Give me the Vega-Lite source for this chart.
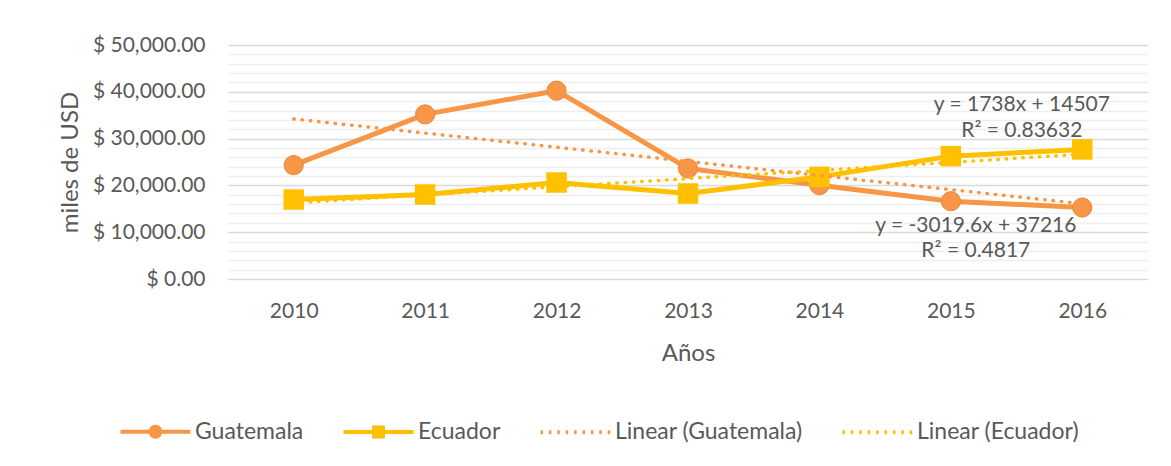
{
  "$schema": "https://vega.github.io/schema/vega-lite/v6.json",
  "width": 920,
  "height": 234,
  "autosize": {"type": "none"},
  "padding": {"left": 228, "top": 45, "right": 23, "bottom": 187},
  "background": "white",
  "config": {
    "view": {"stroke": null},
    "font": "Lato",
    "axis": {"labelColor": "#595959", "titleColor": "#595959", "titleFontWeight": "normal", "domain": false, "ticks": false}
  },
  "data": {
    "values": [
      {"year": 2010, "value": 24330, "series": "Guatemala"},
      {"year": 2011, "value": 35180, "series": "Guatemala"},
      {"year": 2012, "value": 40240, "series": "Guatemala"},
      {"year": 2013, "value": 23620, "series": "Guatemala"},
      {"year": 2014, "value": 20040, "series": "Guatemala"},
      {"year": 2015, "value": 16620, "series": "Guatemala"},
      {"year": 2016, "value": 15270, "series": "Guatemala"},
      {"year": 2010, "value": 16980, "series": "Ecuador"},
      {"year": 2011, "value": 18050, "series": "Ecuador"},
      {"year": 2012, "value": 20620, "series": "Ecuador"},
      {"year": 2013, "value": 18270, "series": "Ecuador"},
      {"year": 2014, "value": 21820, "series": "Ecuador"},
      {"year": 2015, "value": 26250, "series": "Ecuador"},
      {"year": 2016, "value": 27690, "series": "Ecuador"},
      {"year": 2010, "value": 34196, "series": "Linear (Guatemala)"},
      {"year": 2016, "value": 16079, "series": "Linear (Guatemala)"},
      {"year": 2010, "value": 16245, "series": "Linear (Ecuador)"},
      {"year": 2016, "value": 26673, "series": "Linear (Ecuador)"}
    ]
  },
  "encoding": {
    "x": {
      "field": "year", "type": "quantitative", "title": "Años",
      "scale": {"domain": [2009.5, 2016.5], "nice": false, "zero": false},
      "axis": {"values": [2010, 2011, 2012, 2013, 2014, 2015, 2016], "format": "d", "grid": false, "labelFontSize": 21, "labelPadding": 21, "titleFontSize": 24, "titlePadding": 20}
    },
    "y": {
      "field": "value", "type": "quantitative", "title": "miles de USD",
      "scale": {"domain": [0, 50000], "nice": false},
      "axis": {
        "values": [0, 2000, 4000, 6000, 8000, 10000, 12000, 14000, 16000, 18000, 20000, 22000, 24000, 26000, 28000, 30000, 32000, 34000, 36000, 38000, 40000, 42000, 44000, 46000, 48000, 50000],
        "labelExpr": "datum.value % 10000 === 0 ? '$ ' + format(datum.value, ',.2f') : ''",
        "gridColor": {"condition": {"test": "datum.value % 10000 === 0", "value": "#D9D9D9"}, "value": "#EEEEEE"},
        "gridWidth": 1.3,
        "labelFontSize": 21, "labelPadding": 23, "titleFontSize": 24, "titlePadding": 10
      }
    }
  },
  "layer": [
    {
      "mark": {"type": "point", "filled": true, "opacity": 0, "size": 10},
      "encoding": {
        "color": {
          "field": "series", "type": "nominal",
          "scale": {"domain": ["Guatemala", "Ecuador", "Linear (Guatemala)", "Linear (Ecuador)"], "range": ["#F79646", "#FFC000", "#F79646", "#FFC000"]},
          "legend": {
            "orient": "none", "legendX": -84, "legendY": 375, "direction": "horizontal", "title": null,
            "labelFontSize": 23, "labelColor": "#595959", "labelLimit": 0, "symbolSize": 196, "labelOffset": 28, "columnPadding": 31,
            "symbolOpacity": 1, "symbolStrokeWidth": 4
          }
        },
        "shape": {
          "field": "series", "type": "nominal",
          "scale": {"domain": ["Guatemala", "Ecuador", "Linear (Guatemala)", "Linear (Ecuador)"], "range": [
            "M-5,0H5M-0.714,0A0.714,0.714 0 1,1 0.714,0A0.714,0.714 0 1,1 -0.714,0M-0.179,0A0.179,0.179 0 1,1 0.179,0A0.179,0.179 0 1,1 -0.179,0",
            "M-5,0H5M-0.643,-0.643H0.643V0.643H-0.643ZM-0.107,-0.107H0.107V0.107H-0.107Z",
            "M-5,0h0.36M-3.8,0h0.36M-2.6,0h0.36M-1.4,0h0.36M-0.2,0h0.36M1,0h0.36M2.2,0h0.36M3.4,0h0.36M4.6,0h0.36",
            "M-5,0h0.36M-3.8,0h0.36M-2.6,0h0.36M-1.4,0h0.36M-0.2,0h0.36M1,0h0.36M2.2,0h0.36M3.4,0h0.36M4.6,0h0.36"
          ]},
          "legend": {"title": null}
        }
      }
    },
    {
      "transform": [{"filter": "datum.series === 'Guatemala' || datum.series === 'Ecuador'"}],
      "mark": {"type": "line", "strokeWidth": 5},
      "encoding": {
        "color": {"field": "series", "type": "nominal", "legend": null},
        "detail": {"field": "series"}
      }
    },
    {
      "transform": [{"filter": "datum.series === 'Guatemala'"}],
      "mark": {"type": "point", "shape": "circle", "filled": true, "size": 370, "color": "#F79646", "stroke": "#E8893F", "strokeWidth": 1, "opacity": 1}
    },
    {
      "transform": [{"filter": "datum.series === 'Ecuador'"}],
      "mark": {"type": "point", "shape": "square", "filled": true, "size": 420, "color": "#FFC000", "opacity": 1}
    },
    {
      "transform": [{"filter": "indexof(datum.series, 'Linear') === 0"}],
      "mark": {"type": "line", "strokeWidth": 3.5, "strokeDash": [0.5, 7.8], "strokeCap": "round"},
      "encoding": {
        "color": {"field": "series", "type": "nominal", "legend": null},
        "detail": {"field": "series"}
      }
    },
    {
      "data": {
        "values": [
          {"year": 2015.54, "value": 37100, "label": "y = 1738x + 14507"},
          {"year": 2015.54, "value": 31700, "label": "R² = 0.83632"},
          {"year": 2015.19, "value": 11280, "label": "y = -3019.6x + 37216"},
          {"year": 2015.19, "value": 5960, "label": "R² = 0.4817"}
        ]
      },
      "mark": {"type": "text", "fontSize": 21, "color": "#595959", "align": "center", "baseline": "middle"},
      "encoding": {
        "text": {"field": "label"}
      }
    }
  ]
}
